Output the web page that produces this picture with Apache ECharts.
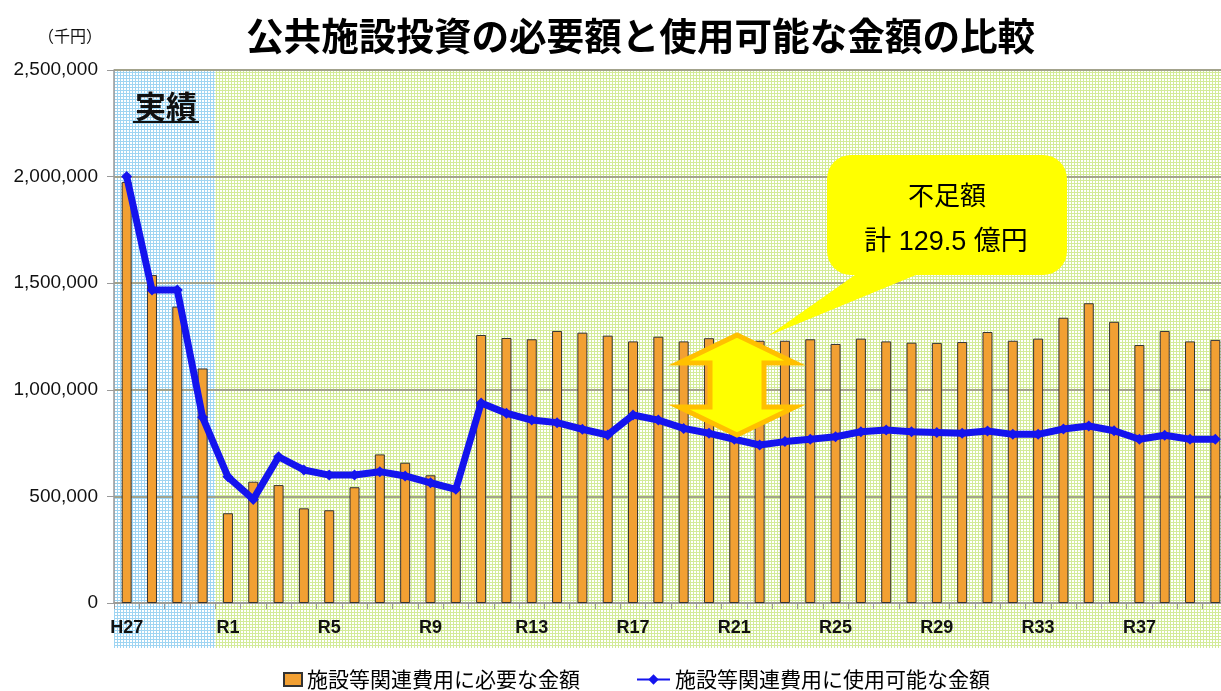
<!DOCTYPE html>
<html lang="ja">
<head>
    <meta charset="UTF-8">
    <title>公共施設投資の必要額と使用可能な金額の比較</title>
    <script src="https://cdn.jsdelivr.net/npm/echarts@6/dist/echarts.min.js"></script>
    <style>
        html, body { margin: 0; padding: 0; background: #fff; overflow: hidden; }
    </style>
</head>
<body>
<!-- 元の図は右端の棒が少し切れているので、少し広めに描いてはみ出させる -->
<div id="main" style="width: 1228px;height:691px;"></div>
<script type="text/javascript">
    // 年度（H27〜H30 実績、R1〜R40 推計）
    var years = ['H27', 'H28', 'H29', 'H30'];
    for (var n = 1; n <= 40; n++) { years.push('R' + n); }

    // 施設等関連費用に必要な金額（千円）
    var required = [
        1975000, 1538000, 1390000, 1100000,
        421000, 569000, 553000, 444000, 435000, 543000, 697000, 658000, 599000, 540000,
        1257000, 1243000, 1237000, 1276000, 1268000, 1254000, 1227000, 1249000, 1227000, 1242000,
        1240000, 1230000, 1230000, 1237000, 1215000, 1240000, 1227000, 1221000, 1220000, 1224000,
        1271000, 1230000, 1240000, 1338000, 1406000, 1319000, 1210000, 1276000, 1227000, 1234000
    ];

    // 施設等関連費用に使用可能な金額（千円）
    var available = [
        2000000, 1468000, 1468000, 871000,
        592000, 486000, 686000, 624000, 600000, 600000, 616000, 596000, 564000, 533000,
        938000, 890000, 858000, 846000, 815000, 788000, 882000, 858000, 819000, 796000,
        768000, 741000, 757000, 768000, 780000, 803000, 811000, 803000, 800000, 796000,
        807000, 791000, 791000, 816000, 830000, 808000, 768000, 787000, 768000, 768000
    ];

    var actualCount = 4; // 実績の年数

    var GRID = { left: 114, top: 70, right: 0, bottom: 88 };
    var W = 1228;

    // 背景の格子模様
    function makePattern(lineColor) {
        var c = document.createElement('canvas');
        c.width = 3; c.height = 3;
        var ctx = c.getContext('2d');
        ctx.fillStyle = '#ffffff';
        ctx.fillRect(0, 0, 3, 3);
        ctx.fillStyle = lineColor;
        ctx.fillRect(0, 0, 3, 1);
        ctx.fillRect(0, 0, 1, 3);
        return { image: c, repeat: 'repeat' };
    }

    var plotW = W - GRID.left - GRID.right;
    var band = plotW / years.length;
    var splitX = GRID.left + band * actualCount;
    var bgBottom = 648;

    var legendFont = { fontSize: 21, color: '#000', fontFamily: '"Noto Sans CJK JP", sans-serif' };

    var myChart = echarts.init(document.getElementById('main'));
    myChart.setOption({
        animation: false,
        textStyle: { fontFamily: '"Liberation Sans", "Noto Sans CJK JP", sans-serif' },
        title: {
            text: '公共施設投資の必要額と使用可能な金額の比較',
            left: 241,
            top: 12,
            textStyle: { fontSize: 37.6, fontWeight: 'bold', color: '#000', fontFamily: '"Noto Sans CJK JP", sans-serif' }
        },
        legend: [
            {
                left: 278, top: 664, itemWidth: 18, itemHeight: 13, textStyle: legendFont,
                data: [{ name: '施設等関連費用に必要な金額', icon: 'rect' }]
            },
            {
                left: 631, top: 664, itemWidth: 33, itemHeight: 13, textStyle: legendFont,
                data: [{ name: '施設等関連費用に使用可能な金額' }]
            }
        ],
        grid: { left: GRID.left, top: GRID.top, right: GRID.right, bottom: GRID.bottom, containLabel: false },
        xAxis: {
            type: 'category',
            data: years,
            boundaryGap: true,
            axisLine: { lineStyle: { color: '#9a9a9a', width: 1.5 } },
            axisTick: { show: true, interval: 0, length: 6, lineStyle: { color: '#9a9a9a' } },
            axisLabel: { interval: 3, fontSize: 18, fontWeight: 'bold', color: '#111', margin: 16 }
        },
        yAxis: {
            type: 'value',
            min: 0,
            max: 2500000,
            interval: 500000,
            axisLine: { show: true, lineStyle: { color: '#9a9a9a', width: 1.5 } },
            axisTick: { show: true, length: 7, lineStyle: { color: '#9a9a9a' } },
            axisLabel: {
                fontSize: 19, color: '#111', margin: 16,
                formatter: function (v) { return v.toString().replace(/\B(?=(\d{3})+(?!\d))/g, ','); }
            },
            splitLine: { lineStyle: { color: '#a3a38c', width: 2 } }
        },
        series: [
            {
                name: '施設等関連費用に必要な金額',
                type: 'bar',
                data: required,
                barWidth: 10,
                itemStyle: { color: '#F2A033', borderColor: '#333', borderWidth: 1 },
                z: 2
            },
            {
                name: '施設等関連費用に使用可能な金額',
                type: 'line',
                data: available,
                symbol: 'diamond',
                symbolSize: 11,
                lineStyle: { color: '#1414EE', width: 7 },
                itemStyle: { color: '#1414EE' },
                z: 3
            }
        ],
        graphic: [
            // 背景（実績＝青、推計＝緑）
            { type: 'rect', z: -10, silent: true,
              shape: { x: GRID.left, y: GRID.top, width: splitX - GRID.left, height: bgBottom - GRID.top },
              style: { fill: makePattern('#9fd5f2') } },
            { type: 'rect', z: -10, silent: true,
              shape: { x: splitX, y: GRID.top, width: W - splitX, height: bgBottom - GRID.top },
              style: { fill: makePattern('#d3eb98') } },
            // 単位
            { type: 'text', left: 38, top: 28,
              style: { text: '（千円）', fontSize: 16, fill: '#111', fontFamily: '"Noto Sans CJK JP", sans-serif' } },
            // 実績ラベル
            { type: 'text', x: 166, y: 106, z: 20,
              style: { text: '実績', fontSize: 31, fontWeight: 'bold', fill: '#111', align: 'center', verticalAlign: 'middle',
                       fontFamily: '"Noto Sans CJK JP", sans-serif' } },
            { type: 'line', z: 20, shape: { x1: 133, y1: 122, x2: 199, y2: 122 }, style: { stroke: '#111', lineWidth: 2 } },
            // 吹き出し
            { type: 'polygon', z: 20,
              shape: { points: [[862, 270], [928, 270], [768, 336]] },
              style: { fill: '#FFFF00' } },
            { type: 'rect', z: 21,
              shape: { x: 827, y: 155, width: 240, height: 120, r: 24 },
              style: { fill: '#FFFF00' } },
            { type: 'text', x: 947, y: 195, z: 22,
              style: { text: '不足額', fontSize: 26, fill: '#000', align: 'center', verticalAlign: 'middle',
                       fontFamily: '"Noto Sans CJK JP", sans-serif' } },
            { type: 'text', x: 946, y: 243, z: 22,
              style: { text: '計 129.5 億円', fontSize: 27, fill: '#000', align: 'center', verticalAlign: 'middle',
                       fontFamily: '"Liberation Sans", "Noto Sans CJK JP", sans-serif' } },
            // 両矢印
            { type: 'polygon', z: 20,
              shape: { points: [[737, 335], [795, 363], [764, 363], [764, 407], [795, 407], [737, 435],
                                [679, 407], [710, 407], [710, 363], [679, 363]] },
              style: { fill: '#FFFF00', stroke: '#FFC000', lineWidth: 5, lineJoin: 'miter' } }
        ]
    });
</script>
</body>
</html>
